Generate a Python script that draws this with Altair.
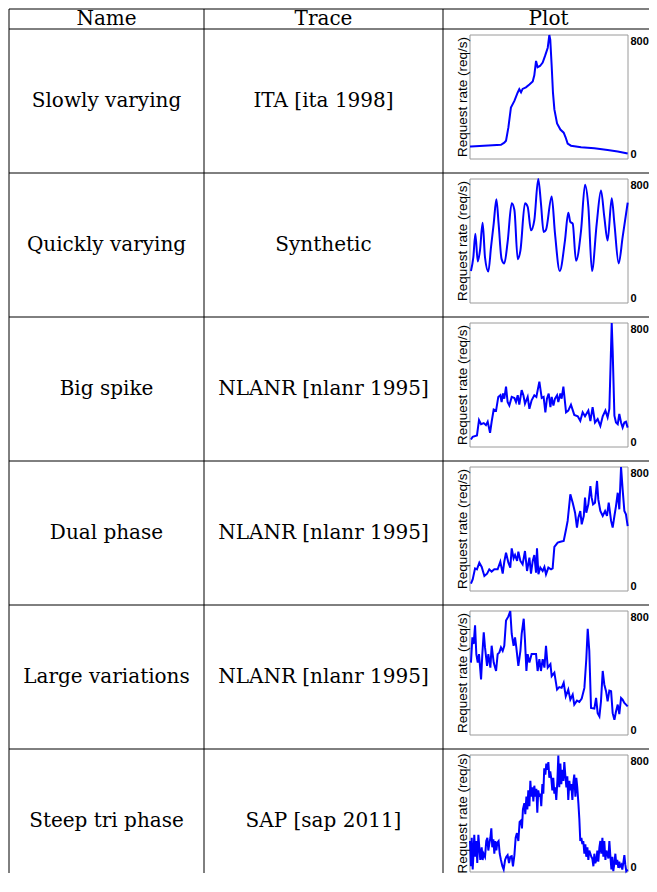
import altair as alt
import pandas as pd

# ---------------- table content ----------------
headers = ["Name", "Trace", "Plot"]
names = ["Slowly varying", "Quickly varying", "Big spike", "Dual phase",
         "Large variations", "Steep tri phase"]
traces = ["ITA [ita 1998]", "Synthetic", "NLANR [nlanr 1995]",
          "NLANR [nlanr 1995]", "NLANR [nlanr 1995]", "SAP [sap 2011]"]
y_title = "Request rate (req/s)"
y_ticks = [0, 800]
t_range = [0, 100]

# ---------------- series (time in % of trace, request rate in req/s) ----------------
ita_t = [0, 0.6, 19.6, 21.7, 22.8, 24.3, 25.9, 28.1, 30.2, 31.2, 32.3, 33.3, 35.4, 37.6,
         39.7, 40.7, 41.8, 42.8, 44.3, 46.0, 47.5, 49.2, 50.2, 50.8, 51.7, 52.5, 53.4,
         55.1, 57.2, 59.3, 60.5, 61.8, 63.9, 70.3, 78.7, 87.1, 93.5, 99.8]
ita_v = [81, 81, 92, 105, 118, 204, 332, 375, 429, 450, 430, 452, 462, 480,
         500, 540, 633, 592, 600, 622, 665, 718, 800, 770, 600, 430, 320,
         230, 190, 170, 140, 100, 86, 76, 69, 58, 49, 36]

syn_t = [0.6, 2.1, 3.4, 4.9, 6.3, 8.0, 9.5, 11.6, 13.3, 15.0, 16.7, 18.1, 20.0, 21.7,
         23.8, 26.4, 28.1, 30.2, 31.9, 34.8, 36.5, 38.6, 40.7, 43.2, 44.9, 46.6, 48.1,
         51.7, 53.8, 56.8, 60.1, 62.2, 63.5, 65.0, 67.1, 70.3, 72.8, 74.9, 77.2, 80.2,
         82.9, 85.0, 87.1, 89.7, 91.4, 94.1, 96.6, 99.8]
syn_v = [207, 294, 447, 268, 338, 517, 294, 203, 360, 512, 669, 512, 283, 255,
         392, 643, 600, 283, 338, 643, 621, 469, 534, 800, 643, 458, 473,
         687, 447, 207, 403, 582, 523, 512, 272, 469, 763, 621, 207, 512,
         726, 556, 403, 676, 512, 255, 425, 647]

spike_t = [0.6, 1.7, 4.4, 5.7, 7.0, 8.7, 10.1, 11.2, 12.7, 13.7, 15.0, 16.5, 17.9, 19.2,
           20.0, 20.9, 21.7, 22.8, 23.8, 24.9, 26.4, 28.1, 29.1, 30.2, 31.2, 32.7, 33.8,
           34.8, 36.5, 37.6, 39.0, 40.7, 42.0, 43.9, 45.4, 46.6, 47.7, 48.7, 49.8, 50.9,
           51.7, 52.8, 53.8, 55.1, 55.9, 57.2, 58.0, 59.1, 60.8, 62.2, 63.9, 66.0, 68.2,
           69.8, 71.3, 72.8, 74.9, 76.2, 77.6, 79.1, 80.8, 82.5, 84.0, 85.7, 87.1, 88.2,
           88.8, 89.7, 90.3, 91.4, 92.4, 93.5, 94.5, 95.6, 96.6, 97.7, 98.7, 99.8]
spike_v = [48, 66, 75, 174, 147, 154, 141, 163, 92, 163, 242, 235, 323, 334,
           290, 345, 312, 389, 290, 268, 323, 316, 290, 334, 273, 367, 334,
           279, 323, 246, 301, 334, 323, 422, 316, 323, 224, 312, 345, 257,
           323, 268, 312, 334, 290, 345, 312, 389, 224, 235, 273, 207, 198,
           169, 224, 198, 235, 167, 257, 158, 180, 136, 198, 235, 191, 246,
           466, 800, 620, 202, 158, 147, 213, 158, 125, 158, 163, 125]

dual_t = [0.6, 1.7, 3.2, 4.4, 5.9, 7.4, 9.1, 10.8, 12.2, 13.7, 15.4, 17.5, 19.2, 20.7,
          21.7, 22.8, 24.3, 25.5, 26.4, 27.6, 28.5, 29.8, 30.6, 31.9, 33.3, 34.8, 36.1,
          37.6, 38.6, 39.7, 40.7, 41.8, 42.4, 43.3, 44.5, 46.0, 47.1, 48.1, 49.6, 51.3,
          52.3, 53.4, 55.5, 57.2, 59.3, 60.8, 61.8, 63.5, 65.0, 66.5, 67.7, 68.6, 69.8,
          70.7, 72.0, 72.8, 73.6, 74.9, 76.2, 77.0, 77.9, 79.1, 80.4, 81.2, 82.5, 84.0,
          85.5, 86.7, 87.8, 89.3, 90.3, 91.4, 92.4, 93.5, 94.5, 95.6, 96.6, 97.7, 98.7, 99.8]
dual_v = [47, 75, 146, 140, 183, 155, 97, 112, 140, 125, 140, 140, 189, 112,
          189, 247, 183, 151, 275, 211, 232, 194, 254, 194, 172, 258, 129,
          215, 112, 194, 232, 118, 275, 108, 151, 129, 155, 108, 151, 140,
          146, 284, 312, 318, 323, 398, 452, 624, 570, 505, 409, 473, 516,
          430, 484, 602, 505, 559, 677, 602, 559, 570, 710, 591, 516, 484,
          516, 484, 570, 452, 409, 484, 548, 634, 527, 800, 656, 516, 495, 419]

large_t = [0.6, 1.5, 2.3, 3.2, 4.0, 4.9, 5.7, 7.0, 7.8, 8.7, 9.5, 10.8, 11.6, 12.9,
           13.7, 15.0, 16.5, 17.5, 18.6, 19.6, 20.7, 21.7, 22.8, 24.3, 25.5, 26.4, 27.6,
           28.5, 29.3, 30.6, 31.9, 32.7, 34.0, 34.8, 35.7, 36.5, 37.6, 39.0, 40.3, 41.8,
           42.8, 43.9, 44.9, 46.0, 47.1, 48.1, 49.2, 50.9, 51.7, 53.4, 55.1, 56.5, 58.0,
           59.3, 60.6, 62.2, 63.5, 65.0, 66.0, 67.7, 69.2, 70.7, 72.4, 73.6, 74.5, 75.5,
           76.6, 78.7, 79.8, 80.8, 81.9, 82.9, 84.0, 85.0, 86.1, 87.1, 88.2, 89.3, 90.3,
           91.4, 92.4, 93.5, 94.5, 95.6, 96.6, 97.7, 99.8]
large_v = [467, 630, 587, 707, 522, 467, 522, 359, 522, 663, 565, 446, 522, 435,
           576, 467, 413, 522, 533, 565, 543, 576, 739, 765, 800, 652, 576,
           630, 565, 446, 543, 652, 750, 609, 413, 522, 467, 522, 522, 522,
           413, 489, 413, 489, 435, 576, 435, 457, 380, 402, 293, 309, 304,
           337, 250, 293, 228, 261, 196, 222, 213, 235, 304, 489, 685, 543,
           174, 170, 239, 141, 120, 217, 413, 326, 283, 217, 287, 283, 141,
           98, 152, 196, 135, 239, 228, 207, 185]

sap_t = [0.0, 0.6, 1.1, 1.7, 2.3, 2.7, 3.4, 4.0, 4.6, 5.3, 5.9, 6.5, 7.4, 8.0, 8.6, 9.5,
         10.3, 11.0, 11.6, 12.2, 12.9, 13.5, 14.1, 14.8, 15.4, 16.0, 16.7, 17.3, 18.1,
         18.8, 19.6, 20.5, 21.3, 22.2, 23.0, 23.8, 24.7, 25.5, 26.4, 27.2, 28.1, 28.9,
         29.7, 30.6, 31.4, 32.3, 32.9, 33.5, 34.4, 35.0, 35.7, 36.3, 36.9, 37.6, 38.2,
         38.8, 39.5, 40.1, 40.7, 41.4, 42.0, 42.6, 43.2, 43.9, 44.5, 45.1, 45.8, 46.4,
         47.0, 47.7, 48.3, 48.9, 49.6, 50.2, 50.8, 51.5, 52.1, 52.7, 53.4, 54.0, 54.6,
         55.3, 55.9, 56.5, 57.2, 57.8, 58.4, 59.1, 59.7, 60.3, 61.0, 61.6, 62.2, 62.9,
         63.5, 64.1, 64.8, 65.4, 66.0, 66.7, 67.3, 67.9, 68.6, 69.2, 69.8, 70.5, 71.1,
         71.7, 72.4, 73.0, 73.6, 74.3, 74.9, 75.5, 76.2, 76.8, 77.4, 78.1, 78.7, 79.3,
         80.0, 80.6, 81.2, 81.9, 82.5, 83.1, 83.8, 84.4, 85.0, 85.7, 86.3, 86.9, 87.6,
         88.2, 88.8, 89.5, 90.1, 90.7, 91.4, 92.0, 92.6, 93.2, 93.9, 94.5, 95.1, 95.8,
         96.4, 97.0, 97.7, 98.3, 98.9, 99.8]
sap_v = [212, 39, 234, 17, 147, 255, 104, 212, 61, 255, 169, 82, 169, 82, 125, 104,
         212, 234, 147, 190, 234, 298, 169, 223, 125, 212, 147, 201, 212,
         125, 82, 39, 17, 82, 104, 115, 61, 104, 108, 39, 115, 234,
         266, 212, 342, 352, 298, 428, 471, 396, 515, 428, 558, 450, 623,
         515, 579, 482, 590, 515, 569, 406, 558, 515, 536, 450, 601, 536,
         709, 666, 742, 698, 752, 644, 688, 634, 558, 644, 536, 579, 493,
         623, 796, 579, 742, 601, 698, 623, 752, 666, 579, 655, 493, 623,
         558, 601, 493, 612, 666, 515, 644, 579, 471, 363, 212, 234, 190,
         212, 125, 190, 104, 169, 82, 147, 125, 104, 93, 39, 125, 61,
         82, 147, 71, 169, 212, 125, 234, 104, 212, 82, 147, 125, 93,
         212, 115, 17, 104, 6, 61, 125, 50, 82, 28, 71, 39, 50,
         17, 61, 115, 50, 6, 17]

series = [(ita_t, ita_v, "linear"), (syn_t, syn_v, "monotone"),
          (spike_t, spike_v, "linear"), (dual_t, dual_v, "linear"),
          (large_t, large_v, "linear"), (sap_t, sap_v, "linear")]

# ---------------- layout ----------------
COL_W = [195, 239, 211]
HEADER_H = 20
ROW_H = 144
LAST_H = 124          # last row is cut by the page edge in the reference
SERIF = "DejaVu Serif"
SANS = "Liberation Sans"


def borders(w, h):
    """Table grid lines of a cell: its top edge and its left edge."""
    one = pd.DataFrame({"k": [0]})
    top = alt.Chart(one).mark_rule(color="black", strokeWidth=1).encode(
        x=alt.value(0), x2=alt.value(w), y=alt.value(0))
    left = alt.Chart(one).mark_rule(color="black", strokeWidth=1).encode(
        x=alt.value(0), y=alt.value(0), y2=alt.value(h))
    return [top, left]


def text_cell(label, w, h, yc):
    txt = alt.Chart(pd.DataFrame({"label": [label]})).mark_text(
        font=SERIF, fontSize=20, color="black", baseline="middle", align="center"
    ).encode(text="label:N", x=alt.value(w / 2), y=alt.value(yc))
    return alt.layer(txt, *borders(w, h)).properties(width=w, height=h)


def plot_cell(t, v, interp, w, h, y_bottom):
    df = pd.DataFrame({"t": t, "v": v})
    xs = alt.Scale(domain=t_range, range=[27, 185], nice=False, zero=False)
    ys = alt.Scale(domain=[y_ticks[0], y_ticks[-1]], range=[y_bottom, 6], nice=False)
    y_axis = alt.Axis(
        orient="right", offset=-(w - 185), values=y_ticks, title=None, grid=False,
        domain=False, ticks=False, tickSize=0, labelFlush=True, labelPadding=2,
        labelFont=SANS, labelFontSize=11, labelFontWeight="bold", labelColor="black")
    frame_df = pd.DataFrame({"t0": [t_range[0]], "t1": [t_range[1]],
                             "v0": [y_ticks[0]], "v1": [y_ticks[-1]]})
    frame = alt.Chart(frame_df).mark_rect(
        fillOpacity=0, stroke="#9a9a9a", strokeWidth=1
    ).encode(
        x=alt.X("t0:Q", scale=xs, axis=None), x2="t1:Q",
        y=alt.Y("v0:Q", scale=ys, axis=y_axis), y2="v1:Q",
    )
    line = alt.Chart(df).mark_line(
        color="#0000ff", strokeWidth=2, interpolate=interp
    ).encode(
        x=alt.X("t:Q", scale=xs, axis=None),
        y=alt.Y("v:Q", scale=ys, axis=y_axis),
    )
    title_df = pd.DataFrame({"label": [y_title], "mid": [(y_ticks[0] + y_ticks[-1]) / 2]})
    title = alt.Chart(title_df).mark_text(
        angle=270, font=SANS, fontSize=13.5, color="black", align="center", baseline="middle"
    ).encode(text="label:N", x=alt.value(20), y=alt.Y("mid:Q", scale=ys, axis=y_axis))
    return alt.layer(frame, line, title, *borders(w, h)).properties(width=w, height=h)


cells = [text_cell(hd, w, HEADER_H, HEADER_H / 2) for hd, w in zip(headers, COL_W)]
for i, (name, trace, (t, v, interp)) in enumerate(zip(names, traces, series)):
    last = i == len(names) - 1
    h = LAST_H if last else ROW_H
    cells += [
        text_cell(name, COL_W[0], h, ROW_H / 2),
        text_cell(trace, COL_W[1], h, ROW_H / 2),
        plot_cell(t, v, interp, COL_W[2], h, LAST_H - 1 if last else 130),
    ]

chart = alt.concat(*cells, columns=3, spacing=0, bounds="flush", align="each").properties(
    padding={"left": 0, "top": 0, "right": -6, "bottom": 0},
    background="white",
).configure_view(strokeWidth=0).configure_concat(spacing=0)

chart.save("out.html", embed_options={"renderer": "svg", "actions": False})
